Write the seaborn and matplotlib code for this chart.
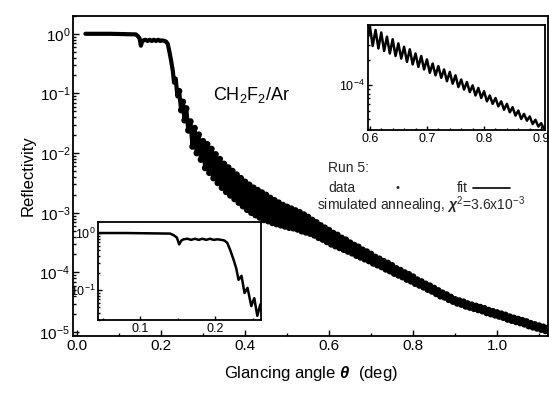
import numpy as np
import pandas as pd
import matplotlib
matplotlib.use("Agg")
import matplotlib.pyplot as plt
import seaborn as sns
from matplotlib.ticker import MultipleLocator, LogLocator, NullFormatter, FormatStrFormatter

# ==========================================
# data (log10 of reflectivity)
# ==========================================
angle_front = [0.020, 0.050, 0.080, 0.110, 0.140, 0.145, 0.149, 0.152, 0.155, 0.158,
               0.163, 0.168, 0.173, 0.178, 0.183, 0.188, 0.193, 0.198, 0.203, 0.208,
               0.212, 0.216, 0.220, 0.224, 0.228, 0.231, 0.235, 0.239, 0.243, 0.248,
               0.252, 0.256, 0.260, 0.265]
logr_front = [0.00, 0.00, 0.00, -0.005, -0.01, -0.04, -0.08, -0.20, -0.13, -0.11,
              -0.10, -0.12, -0.10, -0.12, -0.10, -0.12, -0.10, -0.12, -0.11, -0.12,
              -0.13, -0.17, -0.30, -0.45, -0.62, -0.82, -0.75, -1.05, -0.96, -1.28,
              -1.14, -1.45, -1.25, -1.62]

# fringe maxima
angle_peak = [0.27, 0.28, 0.29, 0.30, 0.31, 0.32, 0.33, 0.34, 0.35, 0.36,
              0.37, 0.38, 0.39, 0.40, 0.41, 0.42, 0.43, 0.44, 0.45, 0.46,
              0.47, 0.48, 0.49, 0.50, 0.51, 0.52, 0.53, 0.54, 0.55, 0.56,
              0.57, 0.58, 0.59, 0.60, 0.61, 0.62, 0.63, 0.64, 0.65, 0.66,
              0.67, 0.68, 0.69, 0.70, 0.71, 0.72, 0.73, 0.74, 0.75, 0.76,
              0.77, 0.78, 0.79, 0.80, 0.81, 0.82, 0.83, 0.84, 0.85, 0.86,
              0.87, 0.88, 0.89, 0.90, 0.91, 0.92, 0.93, 0.94, 0.95, 0.96,
              0.97, 0.98, 0.99, 1.00, 1.01, 1.02, 1.03, 1.04, 1.05, 1.06,
              1.07, 1.08, 1.09, 1.10, 1.11, 1.12]
logr_peak = [-1.47, -1.58, -1.69, -1.80, -1.85, -1.93, -2.02, -2.10, -2.18, -2.24,
             -2.30, -2.36, -2.42, -2.48, -2.53, -2.58, -2.62, -2.66, -2.70, -2.75,
             -2.79, -2.83, -2.87, -2.90, -2.93, -2.96, -2.99, -3.03, -3.07, -3.12,
             -3.16, -3.21, -3.25, -3.29, -3.34, -3.37, -3.42, -3.45, -3.50, -3.54,
             -3.57, -3.62, -3.65, -3.69, -3.74, -3.77, -3.81, -3.84, -3.88, -3.93,
             -3.96, -4.00, -4.03, -4.07, -4.12, -4.15, -4.19, -4.22, -4.26, -4.30,
             -4.34, -4.37, -4.41, -4.45, -4.47, -4.49, -4.52, -4.54, -4.56, -4.58,
             -4.60, -4.63, -4.65, -4.67, -4.69, -4.71, -4.74, -4.76, -4.78, -4.80,
             -4.82, -4.85, -4.87, -4.89, -4.91, -4.93]

# fringe minima
angle_dip = [0.275, 0.285, 0.295, 0.305, 0.315, 0.325, 0.335, 0.345, 0.355, 0.365,
             0.375, 0.385, 0.395, 0.405, 0.415, 0.425, 0.435, 0.445, 0.455, 0.465,
             0.475, 0.485, 0.495, 0.505, 0.515, 0.525, 0.535, 0.545, 0.555, 0.565,
             0.575, 0.585, 0.595, 0.605, 0.615, 0.625, 0.635, 0.645, 0.655, 0.665,
             0.675, 0.685, 0.695, 0.705, 0.715, 0.725, 0.735, 0.745, 0.755, 0.765,
             0.775, 0.785, 0.795, 0.805, 0.815, 0.825, 0.835, 0.845, 0.855, 0.865,
             0.875, 0.885, 0.895, 0.905, 0.915, 0.925, 0.935, 0.945, 0.955, 0.965,
             0.975, 0.985, 0.995, 1.005, 1.015, 1.025, 1.035, 1.045, 1.055, 1.065,
             1.075, 1.085, 1.095, 1.105, 1.115]
logr_dip = [-1.89, -2.00, -2.11, -2.25, -2.33, -2.42, -2.50, -2.58, -2.65, -2.71,
            -2.77, -2.83, -2.89, -2.95, -3.00, -3.04, -3.08, -3.12, -3.14, -3.17,
            -3.19, -3.21, -3.23, -3.25, -3.26, -3.28, -3.31, -3.33, -3.35, -3.38,
            -3.42, -3.45, -3.49, -3.53, -3.56, -3.59, -3.62, -3.65, -3.68, -3.72,
            -3.75, -3.78, -3.81, -3.85, -3.88, -3.91, -3.95, -3.98, -4.02, -4.05,
            -4.08, -4.12, -4.15, -4.19, -4.22, -4.25, -4.29, -4.32, -4.36, -4.40,
            -4.42, -4.46, -4.49, -4.52, -4.54, -4.57, -4.59, -4.61, -4.63, -4.65,
            -4.68, -4.70, -4.72, -4.74, -4.76, -4.79, -4.81, -4.83, -4.85, -4.87,
            -4.90, -4.92, -4.94, -4.96, -4.98]

main_yticks = [1e-5, 1e-4, 1e-3, 1e-2, 1e-1, 1e0]

angle = np.array(angle_front + angle_peak + angle_dip)
logr = np.array(logr_front + logr_peak + logr_dip)
order = np.argsort(angle)
df = pd.DataFrame({"angle": angle[order], "refl": 10 ** logr[order]})

# ==========================================
# style
# ==========================================
sns.set_theme(style="ticks")
plt.rcParams['font.family'] = ['Liberation Sans', 'DejaVu Sans']
plt.rcParams['mathtext.fontset'] = 'custom'
plt.rcParams['mathtext.rm'] = 'Liberation Sans'
plt.rcParams['mathtext.it'] = 'Liberation Sans:italic:bold'
plt.rcParams['mathtext.bf'] = 'Liberation Sans:bold'


def style_axes(a, size, major_len=4, minor_len=2):
    for s in a.spines.values():
        s.set_linewidth(1.3)
        s.set_color("black")
    a.tick_params(which="both", direction="in", top=False, right=False,
                  colors="black", labelsize=size, width=1.0, pad=2)
    a.tick_params(which="major", length=major_len)
    a.tick_params(which="minor", length=minor_len)


fig = plt.figure(figsize=(5.49, 3.96), dpi=100)
ax = fig.add_axes([0.133, 0.1515, 0.865, 0.8085])

sns.lineplot(data=df, x="angle", y="refl", ax=ax, color="black", lw=3.0,
             sort=False, estimator=None)
sns.scatterplot(data=df[df.angle > 0.24], x="angle", y="refl", ax=ax, color="black",
                s=22, edgecolor="none")
ax.set_yscale("log")
ax.set_xlim(-0.0095, 1.121)
ax.set_ylim(8.6e-6, 2.0)
ax.set_yticks(main_yticks)
ax.yaxis.set_minor_locator(LogLocator(base=10, subs=np.arange(2, 10)))
ax.yaxis.set_minor_formatter(NullFormatter())
ax.xaxis.set_major_locator(MultipleLocator(0.2))
ax.xaxis.set_minor_locator(MultipleLocator(0.1))
ax.xaxis.set_major_formatter(FormatStrFormatter("%.1f"))
style_axes(ax, 11)
ax.set_xlabel(r"Glancing angle $\theta$  (deg)", fontsize=12, labelpad=8, color="black")
ax.set_ylabel("Reflectivity", fontsize=12, labelpad=3, color="black")

ax.text(0.295, 0.753, r"CH$_2$F$_2$/Ar", transform=ax.transAxes, fontsize=13,
        va="center", ha="left", color="black")
ax.text(0.537, 0.525, "Run 5:", transform=ax.transAxes, fontsize=10, va="center")
ax.text(0.537, 0.4625, "data", transform=ax.transAxes, fontsize=10, va="center")
ax.text(0.684, 0.4625, "\u2022", transform=ax.transAxes, fontsize=8, va="center",
        ha="center")
ax.text(0.808, 0.4625, "fit", transform=ax.transAxes, fontsize=10, va="center")
ax.plot([0.842, 0.92], [0.4625, 0.4625], transform=ax.transAxes, color="black", lw=1.2)
ax.text(0.514, 0.409, r"simulated annealing, $\chi^2$=3.6x10$^{-3}$",
        transform=ax.transAxes, fontsize=10, va="center")

# ==========================================
# inset: high-angle fringes
# ==========================================
ax_tr = fig.add_axes([0.670, 0.672, 0.322, 0.265])
sub = df[(df.angle > 0.58) & (df.angle < 0.93)]
sns.lineplot(data=sub, x="angle", y="refl", ax=ax_tr, color="black", lw=1.8,
             sort=False, estimator=None)
ax_tr.set_yscale("log")
ax_tr.set_xlim(0.5965, 0.906)
ax_tr.set_ylim(10 ** -4.53, 10 ** -3.28)
ax_tr.set_yticks([1e-4])
ax_tr.yaxis.set_minor_locator(LogLocator(base=10, subs=np.arange(2, 10)))
ax_tr.yaxis.set_minor_formatter(NullFormatter())
ax_tr.xaxis.set_major_locator(MultipleLocator(0.1))
ax_tr.xaxis.set_minor_locator(MultipleLocator(0.02))
ax_tr.xaxis.set_major_formatter(FormatStrFormatter("%.1f"))
style_axes(ax_tr, 9, 3, 1.5)
ax_tr.set_xlabel("")
ax_tr.set_ylabel("")

# ==========================================
# inset: critical angle region
# ==========================================
ax_bl = fig.add_axes([0.1785, 0.192, 0.297, 0.247])
sub = df[df.angle < 0.27]
sns.lineplot(data=sub, x="angle", y="refl", ax=ax_bl, color="black", lw=1.8,
             sort=False, estimator=None)
ax_bl.set_yscale("log")
ax_bl.set_xlim(0.044, 0.261)
ax_bl.set_ylim(0.03, 1.55)
ax_bl.set_yticks([1e-1, 1e0])
ax_bl.yaxis.set_minor_locator(LogLocator(base=10, subs=np.arange(2, 10)))
ax_bl.yaxis.set_minor_formatter(NullFormatter())
ax_bl.xaxis.set_major_locator(MultipleLocator(0.1))
ax_bl.xaxis.set_minor_locator(MultipleLocator(0.05))
ax_bl.xaxis.set_major_formatter(FormatStrFormatter("%.1f"))
style_axes(ax_bl, 9, 3, 1.5)
ax_bl.set_xlabel("")
ax_bl.set_ylabel("")

plt.savefig("out.png", dpi=100)
